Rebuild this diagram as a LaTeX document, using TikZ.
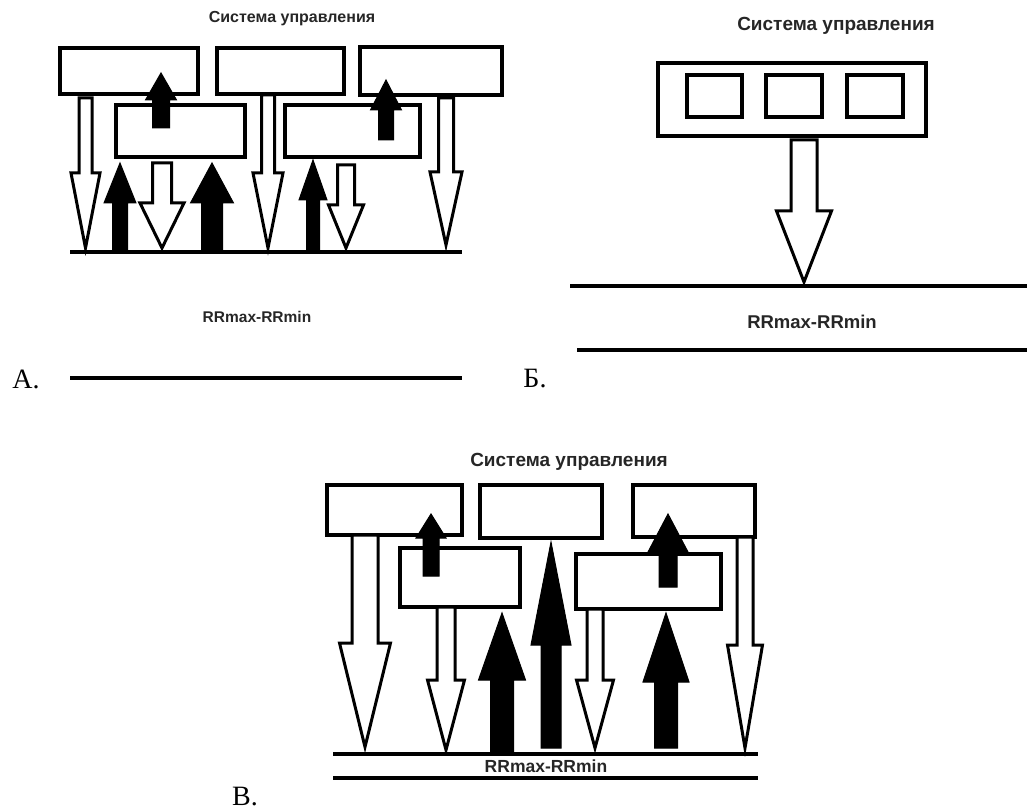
\documentclass[tikz,border=0pt]{standalone}
\usepackage{fontspec}
\setmainfont{Liberation Serif}
\setsansfont{Liberation Sans}
\usepackage{tikz}
\usetikzlibrary{shapes,arrows}

\begin{document}
\begin{tikzpicture}[x=1pt,y=-1pt]
				\tikzstyle{box} = [draw, rectangle, line width=3.5pt, fill=white, inner sep=0]
				\tikzstyle{hollow} = [draw, fill=white, line width=3pt, line join=miter]
				\tikzstyle{filled} = [draw, fill=black, line width=1pt, line join=miter]
				\tikzstyle{level} = [draw, line width=3.5pt]
				\tikzstyle{caption} = [font=\sffamily\bfseries, text=black!85, inner sep=0]
				\tikzstyle{letter} = [font=\fontsize{28}{30}\selectfont, inner sep=0]
				% x, tail, head base, tip, half shaft, half head
				\newcommand{\blockarrow}[7][hollow]{
					\draw[#1] (#2-#6,#3) -- (#2-#6,#4) -- (#2-#7,#4) -- (#2,#5) -- (#2+#7,#4) -- (#2+#6,#4) -- (#2+#6,#3) -- cycle;
				}
				\useasboundingbox (0,0) rectangle (1027,810);

				% A
				\node[caption, font=\sffamily\bfseries\fontsize{16}{18}\selectfont] (atitle) at (292,19) {Система управления};
				\node[box, minimum width=138pt, minimum height=46pt] (abox1) at (129,71) {};
				\node[box, minimum width=127pt, minimum height=46pt] (abox2) at (280.5,71) {};
				\node[box, minimum width=142pt, minimum height=48pt] (abox3) at (431,71) {};
				\node[box, minimum width=129pt, minimum height=52pt] (abox4) at (180.5,131) {};
				\node[box, minimum width=135pt, minimum height=52pt] (abox5) at (352.5,131) {};
				\draw[level] (70,252) -- (462,252);
				\blockarrow{85.5}{98}{173}{248}{6.5}{14.5}
				\blockarrow[filled]{120}{252}{203}{163}{7.5}{16}
				\blockarrow{162}{163}{203}{248}{9.5}{22}
				\blockarrow[filled]{212}{252}{203}{163}{10.5}{21.5}
				\blockarrow{268}{95}{173}{248}{6.5}{15}
				\blockarrow[filled]{313}{252}{200}{160}{6.5}{14}
				\blockarrow{346}{165}{205}{248}{8.5}{17.5}
				\blockarrow{446}{98}{172}{245}{7.5}{16}
				\blockarrow[filled]{161}{128}{100}{73}{8.5}{15.5}
				\blockarrow[filled]{386}{140}{110}{80}{7.5}{15.5}
				\node[caption, font=\sffamily\bfseries\fontsize{15.5}{17}\selectfont] (arange) at (257,317) {RRmax-RRmin};
				\draw[level] (70,378) -- (462,378);
				\node[letter] (alabel) at (26,379) {А.};

				% Б
				\node[caption, font=\sffamily\bfseries\fontsize{19}{21}\selectfont] (btitle) at (836,26) {Система управления};
				\node[box, minimum width=268pt, minimum height=73pt] (bouter) at (792,99.5) {};
				\node[box, minimum width=55pt, minimum height=42pt] (bbox1) at (714.5,96) {};
				\node[box, minimum width=56pt, minimum height=42pt] (bbox2) at (794,96) {};
				\node[box, minimum width=56pt, minimum height=42pt] (bbox3) at (875,96) {};
				\blockarrow{804}{140}{211}{282}{13}{27.5}
				\draw[level] (570,286) -- (1027,286);
				\node[caption, font=\sffamily\bfseries\fontsize{18.5}{20}\selectfont] (brange) at (812,322) {RRmax-RRmin};
				\draw[level] (577,350) -- (1027,350);
				\node[letter] (blabel) at (535,379) {Б.};

				% В
				\node[caption, font=\sffamily\bfseries\fontsize{19}{21}\selectfont] (ctitle) at (569,462) {Система управления};
				\node[box, minimum width=135pt, minimum height=50pt] (cbox1) at (394.5,510) {};
				\node[box, minimum width=122pt, minimum height=53pt] (cbox2) at (541,511.5) {};
				\node[box, minimum width=122pt, minimum height=52pt] (cbox3) at (694,511) {};
				\node[box, minimum width=120pt, minimum height=59pt] (cbox4) at (460,577.5) {};
				\node[box, minimum width=145pt, minimum height=55pt] (cbox5) at (648.5,581.5) {};
				\blockarrow{365}{535}{643}{747}{13}{25.5}
				\blockarrow[filled]{431}{576}{538}{514}{8}{15}
				\blockarrow{446}{607}{680}{750}{9}{18.5}
				\blockarrow[filled]{502}{754}{680}{613}{11.5}{23.5}
				\blockarrow[filled]{551}{748}{645}{542}{10}{20}
				\blockarrow{595}{609}{680}{748}{8}{18.5}
				\blockarrow[filled]{668}{587}{552}{514}{9}{20}
				\blockarrow[filled]{666}{748}{682}{613}{11.5}{23}
				\blockarrow{745}{537}{645}{748}{8}{17.5}
				\draw[level] (333,754) -- (758,754);
				\node[caption, font=\sffamily\bfseries\fontsize{17.5}{19}\selectfont] (crange) at (546,766) {RRmax-RRmin};
				\draw[level] (333,778) -- (758,778);
				\node[letter] (clabel) at (245,797) {В.};
\end{tikzpicture}
\end{document}
